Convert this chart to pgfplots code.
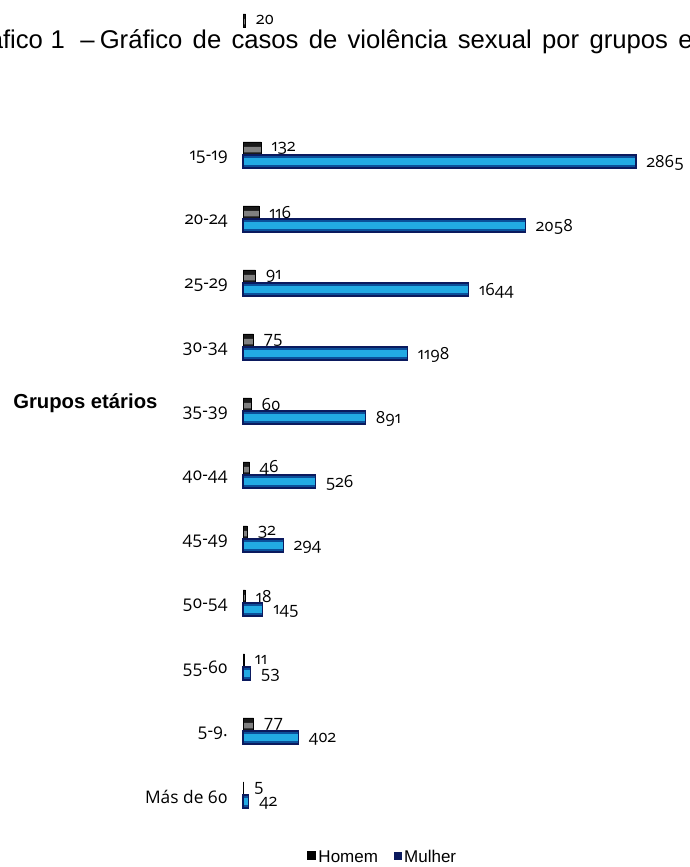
\documentclass[border=0pt]{standalone}
\usepackage{fontspec}
\setmainfont{Liberation Sans}
\newfontfamily\lab[Numbers=OldStyle]{Open Sans}
\usepackage{pgfplots}
\usepackage{pgfplotstable}
\pgfplotsset{compat=1.18}
\definecolor{navyb}{HTML}{0B1A5E}
\definecolor{bluedk}{HTML}{0B4F9A}
\definecolor{bluelt}{HTML}{22AAE3}
\pgfplotstableread{
y  v
10 132
9  116
8  91
7  75
6  60
5  46
4  32
3  18
2  11
1  77
0  5
12 20
}\homem
\pgfplotstableread{
y  v
10 2865
9  2058
8  1644
7  1198
6  891
5  526
4  294
3  145
2  53
1  402
0  42
}\mulher
\begin{document}
\begin{tikzpicture}[x=0.75pt,y=0.75pt]
\useasboundingbox (0,0) rectangle (689,867);
\node[anchor=base west, inner sep=0pt, font=\fontsize{19.25}{22}\selectfont] at (-40,818)
  {\spaceskip=0.4em Gráfico\hspace{0.3em}1\hspace{0.6em}–\hspace{0.2em}Gráfico de casos de violência sexual por grupos etários};
\node[anchor=base west, inner sep=0pt, font=\bfseries\fontsize{15.2}{17}\selectfont] at (13,458) {Grupos etários};
\begin{axis}[
  anchor=south west, at={(182.25pt,30pt)},
  x=0.1029pt, y=48pt,
  xmin=0, xmax=3200, ymin=-0.5, ymax=10.5,
  clip=false,
  axis line style={draw=none},
  major tick length=0pt,
  xtick=\empty,
  ytick={0,...,10},
  yticklabels={Más de 60,5-9.,55-60,50-54,45-49,40-44,35-39,30-34,25-29,20-24,15-19},
  yticklabel style={font=\lab\fontsize{13}{15}\selectfont, anchor=east, inner sep=0pt, xshift=-11.25pt, yshift=-1.5pt},
  /pgf/number format/assume math mode=true,
  /pgf/number format/1000 sep={},
  legend style={at={(0.319,-0.043)}, anchor=center, draw=none, fill=none,
    font=\fontsize{12.75}{14}\selectfont, legend columns=2,
    /tikz/every even column/.append style={column sep=10pt}},
]
\addlegendimage{black, legend image code/.code={\fill[black] (0pt,-1.5pt) rectangle (6pt,4.5pt);}}
\addlegendentry{Homem}
\addlegendimage{navyb, legend image code/.code={\fill[navyb] (0pt,-1.5pt) rectangle (5.25pt,3.75pt);}}
\addlegendentry{Mulher}
% Homem: dark body, lighter core, outline + labels
\addplot[xbar, forget plot, bar width=9.75pt, bar shift=4.875pt, fill=black!90, draw=none] table[x=v,y=y]{\homem};
\addplot[xbar, forget plot, bar width=4pt, bar shift=4pt, fill=black!50, draw=none] table[x=v,y=y]{\homem};
\addplot[xbar, forget plot, bar width=9.75pt, bar shift=4.875pt, fill=none, draw=black, line width=0.6pt,
  nodes near coords,
  every node near coord/.append style={font=\lab\fontsize{12.5}{14}\selectfont, text=black, inner sep=0pt, anchor=west, xshift=7.5pt, yshift=5pt}]
  table[x=v,y=y]{\homem};
% Mulher
\addplot[xbar, forget plot, bar width=9.75pt, bar shift=-4.875pt, fill=bluedk, draw=none] table[x=v,y=y]{\mulher};
\addplot[xbar, forget plot, bar width=5pt, bar shift=-4.875pt, fill=bluelt, draw=none] table[x=v,y=y]{\mulher};
\addplot[xbar, forget plot, bar width=9.75pt, bar shift=-4.875pt, fill=none, draw=navyb, line width=0.9pt,
  nodes near coords,
  every node near coord/.append style={font=\lab\fontsize{12.5}{14}\selectfont, text=black, inner sep=0pt, anchor=west, xshift=7.5pt, yshift=-6pt}]
  table[x=v,y=y]{\mulher};
\end{axis}
\end{tikzpicture}
\end{document}
